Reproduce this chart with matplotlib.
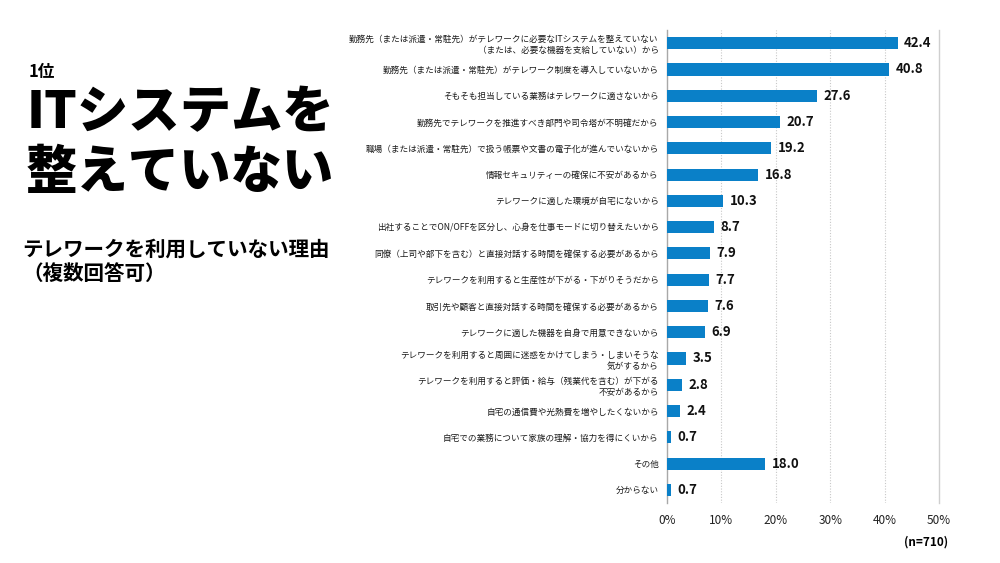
import matplotlib
matplotlib.use("Agg")
import matplotlib.pyplot as plt

plt.rcParams['font.family'] = ['Noto Sans CJK JP', 'DejaVu Sans']

categories = [
    "勤務先（または派遣・常駐先）がテレワークに必要なITシステムを整えていない\n（または、必要な機器を支給していない）から",
    "勤務先（または派遣・常駐先）がテレワーク制度を導入していないから",
    "そもそも担当している業務はテレワークに適さないから",
    "勤務先でテレワークを推進すべき部門や司令塔が不明確だから",
    "職場（または派遣・常駐先）で扱う帳票や文書の電子化が進んでいないから",
    "情報セキュリティーの確保に不安があるから",
    "テレワークに適した環境が自宅にないから",
    "出社することでON/OFFを区分し、心身を仕事モードに切り替えたいから",
    "同僚（上司や部下を含む）と直接対話する時間を確保する必要があるから",
    "テレワークを利用すると生産性が下がる・下がりそうだから",
    "取引先や顧客と直接対話する時間を確保する必要があるから",
    "テレワークに適した機器を自身で用意できないから",
    "テレワークを利用すると周囲に迷惑をかけてしまう・しまいそうな\n気がするから",
    "テレワークを利用すると評価・給与（残業代を含む）が下がる\n不安があるから",
    "自宅の通信費や光熱費を増やしたくないから",
    "自宅での業務について家族の理解・協力を得にくいから",
    "その他",
    "分からない",
]
values = [42.4, 40.8, 27.6, 20.7, 19.2, 16.8, 10.3, 8.7, 7.9, 7.7, 7.6, 6.9, 3.5, 2.8, 2.4, 0.7, 18.0, 0.7]
xticks = [0, 10, 20, 30, 40, 50]
xticklabels = ["0%", "10%", "20%", "30%", "40%", "50%"]

fig = plt.figure(figsize=(10, 5.63), dpi=100)
ax = fig.add_axes([0.667, 0.1066, 0.272, 0.840])

y = list(range(len(categories)))
ax.barh(y, values, height=0.46, color='#0A80C8', zorder=3)
ax.set_ylim(len(categories) - 0.5, -0.5)
ax.set_xlim(0, 50)

for yi, v in zip(y, values):
    ax.text(v + 1.2, yi, f"{v:.1f}", va='center', ha='left', fontsize=9.5,
            fontweight='bold', color='#111111')

ax.set_yticks(y)
ax.set_yticklabels(categories, fontsize=6.2, color='#1a1a1a', linespacing=1.3)
ax.tick_params(axis='y', length=0, pad=6)
ax.set_xticks(xticks)
ax.set_xticklabels(xticklabels, fontsize=8.5, color='#222222')
ax.tick_params(axis='x', length=0, pad=8)

for xt in [10, 20, 30, 40]:
    ax.axvline(xt, color='#c8c8c8', linestyle=(0, (1, 1.5)), linewidth=0.8, zorder=1)
for s in ['top', 'bottom']:
    ax.spines[s].set_visible(False)
ax.spines['right'].set_color('#cfcfcf')
ax.spines['right'].set_linewidth(1.0)
ax.spines['left'].set_color('#a8a8a8')
ax.spines['left'].set_linewidth(1.0)

fig.text(0.948, 0.038, "(n=710)", ha='right', va='center', fontsize=8.5, fontweight='bold')

fig.text(0.029, 0.872, "1位", ha='left', va='center', fontsize=12, fontweight='bold')
fig.text(0.027, 0.80, "ITシステムを", ha='left', va='center', fontsize=37, fontweight='black')
fig.text(0.026, 0.693, "整えていない", ha='left', va='center', fontsize=37, fontweight='black')
fig.text(0.022, 0.558, "テレワークを利用していない理由", ha='left', va='center', fontsize=14.8, fontweight='bold')
fig.text(0.022, 0.515, "（複数回答可）", ha='left', va='center', fontsize=14.8, fontweight='bold')

fig.savefig("out.png", dpi=100)
